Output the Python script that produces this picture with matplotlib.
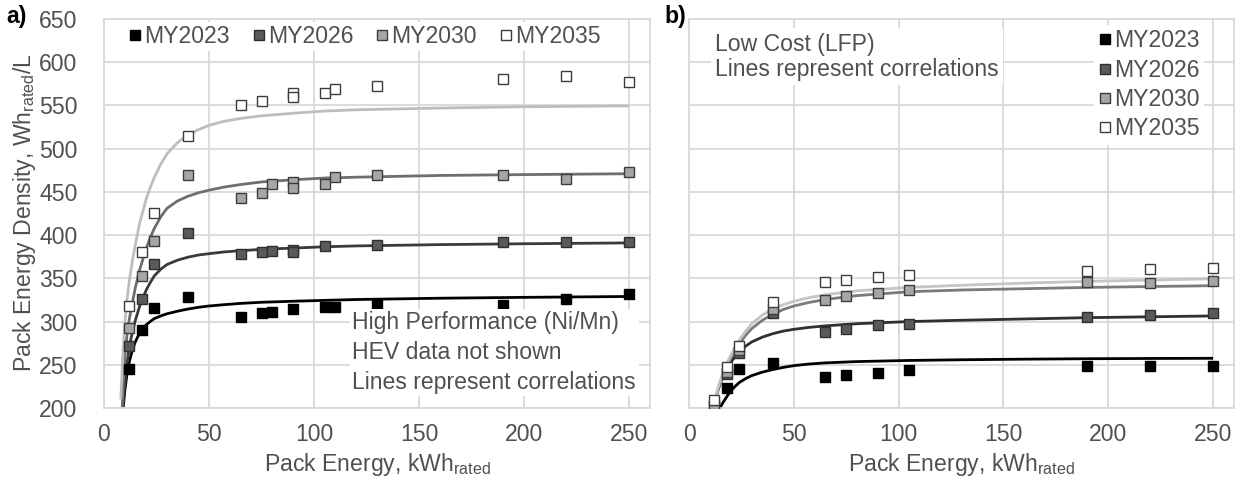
import matplotlib
matplotlib.use("Agg")
import matplotlib.pyplot as plt
from matplotlib.lines import Line2D

plt.rcParams['font.family'] = ['Liberation Sans', 'DejaVu Sans']
plt.rcParams['mathtext.default'] = 'regular'

# ---------------- data ----------------
years = ["MY2023", "MY2026", "MY2030", "MY2035"]

# a) High Performance (Ni/Mn) pack data
hp_x = {
    "MY2023": [12, 18, 24, 40, 65, 75, 80, 90, 105, 110, 130, 190, 220, 250],
    "MY2026": [12, 18, 24, 40, 65, 75, 80, 90, 90, 105, 130, 190, 220, 250],
    "MY2030": [12, 18, 24, 40, 65, 75, 80, 90, 90, 105, 110, 130, 190, 220, 250],
    "MY2035": [12, 18, 24, 40, 65, 75, 90, 90, 105, 110, 130, 190, 220, 250],
}
hp_y = {
    "MY2023": [245, 290, 316, 328, 305, 310, 311.5, 314, 316.5, 316.5, 320, 319, 326.5, 331.5],
    "MY2026": [271.5, 326, 367, 402, 378, 380, 381.5, 383, 381, 387.5, 389, 391.5, 392, 392],
    "MY2030": [293, 353, 393.5, 470, 443.5, 448.5, 459, 462, 454, 459.5, 467, 469.5, 469, 465, 473.5],
    "MY2035": [318.5, 381, 426, 514.5, 550, 555, 564, 560, 564, 569, 573, 580.5, 583.5, 577.5],
}

# a) correlation curves
hp_curve_x = [8, 9, 10, 11, 12, 13.5, 15, 17, 20, 22, 24, 27, 30, 35, 40, 45, 50, 57, 65, 75,
              90, 105, 120, 160, 200, 250]
hp_curve_y = {
    "MY2023": [160, 197, 222, 240, 253, 267, 277, 287, 296, 300, 303.5, 306.5, 309, 312, 314.5,
               316.5, 318, 319.5, 321, 322.3, 323.5, 324.5, 325.5, 327, 328, 329],
    "MY2026": [140, 205, 230, 252, 270, 288, 302, 318, 336, 345, 353, 360.5, 366, 371, 374.5,
               377, 378.5, 380.5, 382, 383.5, 385, 386.5, 387.5, 389, 390, 391],
    "MY2030": [150, 222, 262, 285, 302, 322, 340, 360, 384, 397, 408, 421, 431, 439.5, 445,
               449, 452, 455.5, 458.5, 461.5, 464, 466, 467, 469, 470, 471],
    "MY2035": [210, 262, 300, 326, 346, 370, 390, 414, 441, 455, 467, 482, 494, 507, 516,
               522, 527, 531.5, 535, 538, 541, 543.5, 545, 547, 548.5, 549.5],
}

# b) Low Cost (LFP) pack data
lc_x = {
    "MY2023": [18, 24, 40, 65, 75, 90, 105, 190, 220, 250],
    "MY2026": [12, 18, 24, 40, 65, 75, 90, 105, 190, 220, 250],
    "MY2030": [12, 18, 24, 40, 65, 75, 90, 105, 190, 220, 250],
    "MY2035": [12, 18, 24, 40, 65, 75, 90, 105, 190, 220, 250],
}
lc_y = {
    "MY2023": [223.5, 245, 252.5, 235.5, 238, 240.5, 243.5, 249, 249, 249],
    "MY2026": [202, 239, 264, 310, 287.5, 291, 295.5, 297, 305.5, 307.5, 309.5],
    "MY2030": [204, 242, 267, 315, 324.5, 329, 333.5, 336, 345.5, 345, 346.5],
    "MY2035": [209, 247, 271.5, 322.5, 345.5, 348.5, 351.5, 354, 359, 360.5, 361.5],
}

# b) correlation curves
lc_curve_x = [11, 12, 13, 14, 16, 18, 20, 22, 24, 27, 30, 35, 40, 45, 50, 57, 65, 80,
              105, 130, 160, 190, 220, 250]
lc_curve_y = {
    "MY2023": [170, 183, 190, 196, 205.5, 213, 220, 225, 229.5, 234, 237.5, 241.5, 244.5,
               247, 249, 250.8, 252.2, 253.7, 255, 255.8, 256.5, 257, 257.3, 257.5],
    "MY2026": [196, 205, 214, 222, 235, 245, 253, 259.5, 265, 271.5, 276.5, 282, 286,
               289, 291, 293.2, 295, 297.5, 300, 301.5, 303, 304.5, 305.5, 306.5],
    "MY2030": [192, 203, 213, 222, 236.5, 248, 258, 266.5, 274, 284, 292, 301.5, 308.5,
               314, 318, 322, 325.5, 330, 334.5, 336.5, 338, 339.5, 340.5, 341.5],
    "MY2035": [195, 206, 216, 225, 239.5, 251, 261.5, 270.5, 278.5, 289, 297.5, 307.5, 314.5,
               319.5, 323.5, 327.5, 331, 335.5, 339.5, 342, 344.5, 346.5, 348, 349.5],
}

x_ticks = [0, 50, 100, 150, 200, 250]
y_ticks = [200, 250, 300, 350, 400, 450, 500, 550, 600, 650]

# ---------------- styles ----------------
marker_face = {"MY2023": "#000000", "MY2026": "#5a5a5a", "MY2030": "#a6a6a6", "MY2035": "#ffffff"}
marker_edge = {"MY2023": "#000000", "MY2026": "#2e2e2e", "MY2030": "#3c3c3c", "MY2035": "#3c3c3c"}
line_color_hp = {"MY2023": "#000000", "MY2026": "#3a3a3a", "MY2030": "#6e6e6e", "MY2035": "#bdbdbd"}
line_color_lc = {"MY2023": "#000000", "MY2026": "#2f2f2f", "MY2030": "#7a7a7a", "MY2035": "#c4c4c4"}
grid_c = "#d9d9d9"
text_c = "#505050"
fs = 16.6

W, H = 1242, 487
fig = plt.figure(figsize=(W / 100, H / 100), dpi=100)
axL = fig.add_axes([104 / W, 1 - 408 / H, 546 / W, 389 / H])
axR = fig.add_axes([689 / W, 1 - 408 / H, 545 / W, 389 / H])


def style_axes(ax, show_y):
    ax.set_xlim(0, 260)
    ax.set_ylim(200, 650)
    ax.set_xticks(x_ticks)
    ax.set_yticks(y_ticks)
    ax.set_axisbelow(True)
    ax.grid(True, color=grid_c, lw=1.3)
    for s in ax.spines.values():
        s.set_color(grid_c)
        s.set_linewidth(1.3)
    ax.tick_params(length=0, labelsize=fs, colors=text_c)
    ax.tick_params(axis='x', pad=11)
    ax.tick_params(axis='y', pad=19)
    if not show_y:
        ax.set_yticklabels([])


def draw(ax, px, py, cx, cy, lc):
    for yr in years:
        ax.plot(cx, cy[yr], color=lc[yr], lw=2.0, zorder=2,
                solid_capstyle='butt', solid_joinstyle='round')
    for yr in years:
        ax.plot(px[yr], py[yr], ls='none', marker='s', ms=7.6, mew=1.0,
                mfc=marker_face[yr], mec=marker_edge[yr], zorder=3)


style_axes(axL, True)
style_axes(axR, False)
draw(axL, hp_x, hp_y, hp_curve_x, hp_curve_y, line_color_hp)
draw(axR, lc_x, lc_y, lc_curve_x, lc_curve_y, line_color_lc)

handles = [Line2D([], [], ls='none', marker='s', ms=6.5, mew=1.0,
                  mfc=marker_face[yr], mec=marker_edge[yr]) for yr in years]

legL = axL.legend(handles, years, loc='center left', bbox_to_anchor=(0.04, 0.955),
                  ncol=4, fontsize=fs, frameon=True, handlelength=0.5,
                  handletextpad=0.15, columnspacing=1.0, borderpad=0.15,
                  borderaxespad=0)
legL.get_frame().set_facecolor('white')
legL.get_frame().set_edgecolor('none')
legL.get_frame().set_alpha(1)
for t in legL.get_texts():
    t.set_color(text_c)

legR = axR.legend(handles, years, loc='upper right', bbox_to_anchor=(0.945, 0.985),
                  ncol=1, fontsize=fs, frameon=True, handlelength=0.5,
                  handletextpad=0.15, labelspacing=0.27, borderpad=0.2,
                  borderaxespad=0)
legR.get_frame().set_facecolor('white')
legR.get_frame().set_edgecolor('none')
legR.get_frame().set_alpha(1)
for t in legR.get_texts():
    t.set_color(text_c)

axL.text(0.455, 0.037, "High Performance (Ni/Mn)\nHEV data not shown\nLines represent correlations",
         transform=axL.transAxes, ha='left', va='bottom', fontsize=fs, color=text_c,
         linespacing=1.37, zorder=4,
         bbox=dict(facecolor='white', edgecolor='none', pad=2))

axR.text(0.048, 0.965, "Low Cost (LFP)\nLines represent correlations",
         transform=axR.transAxes, ha='left', va='top', fontsize=fs, color=text_c,
         linespacing=1.15, zorder=4,
         bbox=dict(facecolor='white', edgecolor='none', pad=3))

xlabel = r"Pack Energy, kWh$_{rated}$"
fig.text(377 / W, 1 - 465 / H, xlabel, ha='center', va='center', fontsize=fs, color=text_c)
fig.text(961 / W, 1 - 465 / H, xlabel, ha='center', va='center', fontsize=fs, color=text_c)
fig.text(25 / W, 1 - 213 / H, r"Pack Energy Density, Wh$_{rated}$/L", ha='center', va='center',
         rotation=90, fontsize=fs, color=text_c)

fig.text(17 / W, 1 - 17 / H, "a)", ha='center', va='center', fontsize=fs, fontweight='bold', color='black')
fig.text(675 / W, 1 - 17 / H, "b)", ha='center', va='center', fontsize=fs, fontweight='bold', color='black')

fig.savefig("out.png", dpi=100, facecolor='white')
